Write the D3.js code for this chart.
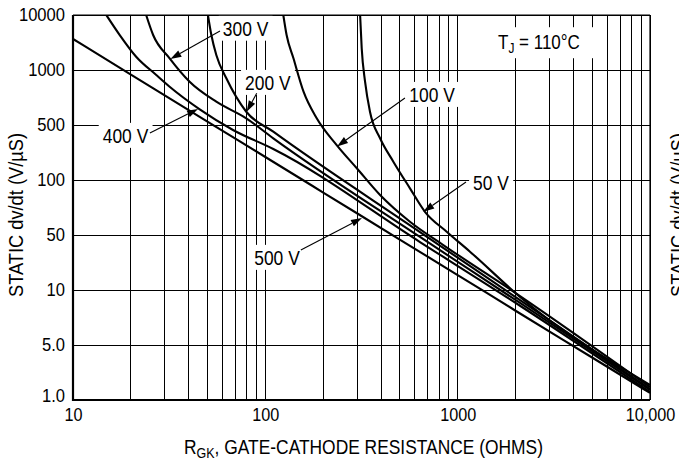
<!DOCTYPE html>
<html>
<head>
<meta charset="utf-8">
<script src="https://cdn.jsdelivr.net/npm/d3@7"></script>
<style>
  body { margin: 0; background: #fff; }
  svg { display: block; font-family: 'Liberation Sans', Arial, Helvetica, sans-serif; }
  .grid line { stroke: #000; stroke-width: 1; shape-rendering: crispEdges; }
  .curve { fill: none; stroke: #000; stroke-width: 2.1; }
</style>
</head>
<body>
<svg width="679" height="463"></svg>
<script>
// axis ticks (the y axis of the original is evenly spaced between these labels)
let yTicks = [1, 5, 10, 50, 100, 500, 1000, 10000];
let yTickLabels = ['1.0', '5.0', '10', '50', '100', '500', '1000', '10000'];
let xTicks = [10, 100, 1000, 10000];
let xTickLabels = ['10', '100', '1000', '10,000'];

// curves: gate-cathode resistance (ohms) -> static dv/dt (V/us)
let r50 = [311, 317, 330, 350, 395, 463, 565, 676, 877, 1159, 2110, 10000];
let dvdt50 = [10000, 2480, 863, 591, 339, 171, 90.0, 67.0, 52.1, 30.7, 9.16, 1.55];

let r100 = [124, 129, 140, 158, 185, 235, 299, 395, 565, 842, 2110, 10000];
let dvdt100 = [10000, 4325, 1632, 761, 544, 278, 141, 82.8, 59.1, 37.3, 9.27, 1.46];

let r200 = [50.3, 52.4, 55.6, 62.7, 79.6, 110, 637, 2110, 10000];
let dvdt200 = [10000, 4325, 1874, 901, 591, 411, 51.9, 8.8, 1.38];

let r300 = [24.0, 26.1, 31.8, 40.4, 55.6, 79.6, 110, 637, 2110, 10000];
let dvdt300 = [10000, 4325, 1632, 863, 671, 544, 339, 47.2, 8.49, 1.34];

let r400 = [14.9, 17.5, 21.3, 27.1, 31.8, 45.6, 67.9, 110, 637, 2110, 10000];
let dvdt400 = [10000, 4325, 1746, 939, 810, 609, 432, 248, 40.7, 8.2, 1.26];

let r500 = [10, 20, 50, 100, 200, 500, 1000, 2000, 5000, 10000];
let dvdt500 = [3661, 944, 522, 196, 85.4, 43.8, 15.5, 7.7, 3.47, 1.23];

// callouts, in data units: label centre, leader start, arrow tip
let annoText = ['300 V', '200 V', '100 V', '50 V', '500 V', '400 V'];
let annoAt = [[78.9, 5728], [103, 854], [736, 734], [1491, 96.9], [115, 25.9], [18.75, 368]];
let annoFrom = [[58.1, 5117], [90.2, 745], [532, 703], [1105, 97.5], [153, 32.2], [25.1, 396]];
let annoTo = [[32.1, 1585], [80.0, 591], [236, 267], [663, 67.0], [318, 61.9], [44.7, 612]];

let plotL = 73, plotR = 650, plotT = 15, plotB = 400;

let x = d3.scaleLog().domain([10, 10000]).range([plotL, plotR]);
let yStep = (plotB - plotT) / (yTicks.length - 1);
let y = d3.scaleLog()
  .domain(yTicks)
  .range(yTicks.map(function(d, i) { return plotB - i * yStep; }));

let svg = d3.select('svg');

svg.append('defs').append('clipPath').attr('id', 'plot')
  .append('rect')
  .attr('x', plotL).attr('y', plotT)
  .attr('width', plotR - plotL).attr('height', plotB - plotT);

let gridG = svg.append('g').attr('class', 'grid');
let boxG = svg.append('g');
let curveG = svg.append('g').attr('clip-path', 'url(#plot)');
let annoG = svg.append('g');
let frameG = svg.append('g');

// squeeze text a bit to imitate the condensed face of the original
function condense(sel, f) {
  sel.each(function() {
    let w = this.getComputedTextLength();
    d3.select(this).attr('textLength', w * f).attr('lengthAdjust', 'spacingAndGlyphs');
  });
}

// grid
gridG.selectAll('line.v')
  .data(x.ticks())
  .join('line')
  .attr('class', 'v')
  .attr('x1', function(d) { return x(d); })
  .attr('x2', function(d) { return x(d); })
  .attr('y1', plotT)
  .attr('y2', plotB);

gridG.selectAll('line.h')
  .data(yTicks)
  .join('line')
  .attr('class', 'h')
  .attr('x1', plotL)
  .attr('x2', plotR)
  .attr('y1', function(d) { return y(d); })
  .attr('y2', function(d) { return y(d); });

// curves
let series = [
  { name: '50 V', r: r50, v: dvdt50 },
  { name: '100 V', r: r100, v: dvdt100 },
  { name: '200 V', r: r200, v: dvdt200 },
  { name: '300 V', r: r300, v: dvdt300 },
  { name: '400 V', r: r400, v: dvdt400 },
  { name: '500 V', r: r500, v: dvdt500 }
];

let line = d3.line()
  .x(function(d) { return x(d[0]); })
  .y(function(d) { return y(d[1]); })
  .curve(d3.curveMonotoneX);

curveG.selectAll('path')
  .data(series)
  .join('path')
  .attr('class', 'curve')
  .attr('d', function(s) {
    return line(s.r.map(function(r, i) { return [r, s.v[i]]; }));
  });

// axes (labels only, frame drawn by hand)
let yAxisG = svg.append('g')
  .attr('transform', 'translate(' + plotL + ',0)')
  .call(d3.axisLeft(y).tickValues(yTicks)
    .tickFormat(function(d, i) { return yTickLabels[i]; })
    .tickSize(0).tickPadding(8));
yAxisG.select('.domain').remove();
yAxisG.selectAll('text')
  .attr('font-size', 18).attr('fill', '#000')
  .attr('font-family', "'Liberation Sans', Arial, sans-serif");
yAxisG.selectAll('.tick').filter(function(d) { return d === 1; })
  .select('text').attr('y', -4);
condense(yAxisG.selectAll('text'), 0.92);

let xAxisG = svg.append('g')
  .attr('transform', 'translate(0,' + plotB + ')')
  .call(d3.axisBottom(x).tickValues(xTicks)
    .tickFormat(function(d, i) { return xTickLabels[i]; })
    .tickSize(0).tickPadding(8));
xAxisG.select('.domain').remove();
xAxisG.selectAll('text')
  .attr('font-size', 18).attr('fill', '#000')
  .attr('font-family', "'Liberation Sans', Arial, sans-serif");
condense(xAxisG.selectAll('text'), 0.9);

// axis titles
let xTitle = svg.append('text')
  .attr('x', 363.5).attr('y', 454)
  .attr('text-anchor', 'middle')
  .attr('font-size', 19.5)
  .attr('textLength', 359).attr('lengthAdjust', 'spacingAndGlyphs');
xTitle.append('tspan').text('R');
xTitle.append('tspan').attr('font-size', 14).attr('dy', 4).text('GK');
xTitle.append('tspan').attr('dy', -4).text(', GATE-CATHODE RESISTANCE (OHMS)');

svg.append('text')
  .attr('transform', 'translate(23,215) rotate(-90)')
  .attr('text-anchor', 'middle')
  .attr('font-size', 19.5)
  .attr('textLength', 164).attr('lengthAdjust', 'spacingAndGlyphs')
  .text('STATIC dv/dt (V/\u00b5S)');

// title of the neighbouring chart, cut off by the right edge
svg.append('text')
  .attr('transform', 'translate(685,215) rotate(-90)')
  .attr('text-anchor', 'middle')
  .attr('font-size', 19.5)
  .attr('textLength', 164).attr('lengthAdjust', 'spacingAndGlyphs')
  .text('STATIC dv/dt (V/\u00b5S)');

// callouts
function arrow(g, x1, y1, x2, y2) {
  let ang = Math.atan2(y2 - y1, x2 - x1);
  let len = 11, hw = 3.6;
  let bx = x2 - len * Math.cos(ang), by = y2 - len * Math.sin(ang);
  let px = -Math.sin(ang) * hw, py = Math.cos(ang) * hw;
  g.append('line')
    .attr('x1', x1).attr('y1', y1).attr('x2', bx).attr('y2', by)
    .attr('stroke', '#000').attr('stroke-width', 1.1);
  g.append('path')
    .attr('d', 'M' + x2 + ',' + y2 + 'L' + (bx + px) + ',' + (by + py) +
      'L' + (bx - px) + ',' + (by - py) + 'Z')
    .attr('fill', '#000');
}

annoText.forEach(function(t, i) {
  let tx = annoG.append('text')
    .attr('x', x(annoAt[i][0]))
    .attr('y', y(annoAt[i][1]))
    .attr('dy', '0.36em')
    .attr('text-anchor', 'middle')
    .attr('font-size', 20.5)
    .text(t);
  condense(tx, 0.85);
  let bb = tx.node().getBBox();
  boxG.append('rect')
    .attr('x', bb.x - 4).attr('y', bb.y - 1)
    .attr('width', bb.width + 8).attr('height', bb.height + 2)
    .attr('fill', '#fff');
  arrow(annoG, x(annoFrom[i][0]), y(annoFrom[i][1]), x(annoTo[i][0]), y(annoTo[i][1]));
});

// junction temperature note
let tj = annoG.append('text')
  .attr('x', x(1621)).attr('y', y(3228))
  .attr('dy', '0.36em')
  .attr('font-size', 20);
tj.append('tspan').text('T');
tj.append('tspan').attr('font-size', 14).attr('dy', 4).text('J');
tj.append('tspan').attr('dy', -4).text(' = 110\u00b0C');
condense(tj, 0.85);
let tjb = tj.node().getBBox();
boxG.append('rect')
  .attr('x', tjb.x - 8).attr('y', tjb.y - 4)
  .attr('width', tjb.width + 22).attr('height', tjb.height + 6)
  .attr('fill', '#fff');

// frame: heavy left and bottom axes, light top and right
frameG.append('line')
  .attr('x1', plotL).attr('x2', plotL).attr('y1', plotT).attr('y2', plotB + 1)
  .attr('stroke', '#000').attr('stroke-width', 2.2);
frameG.append('line')
  .attr('x1', plotL - 1).attr('x2', plotR).attr('y1', plotB).attr('y2', plotB)
  .attr('stroke', '#000').attr('stroke-width', 2.2);
frameG.append('line')
  .attr('x1', plotL).attr('x2', plotR).attr('y1', plotT).attr('y2', plotT)
  .attr('stroke', '#000').attr('stroke-width', 1.2);
frameG.append('line')
  .attr('x1', plotR).attr('x2', plotR).attr('y1', plotT).attr('y2', plotB)
  .attr('stroke', '#000').attr('stroke-width', 1.2);
</script>
</body>
</html>
